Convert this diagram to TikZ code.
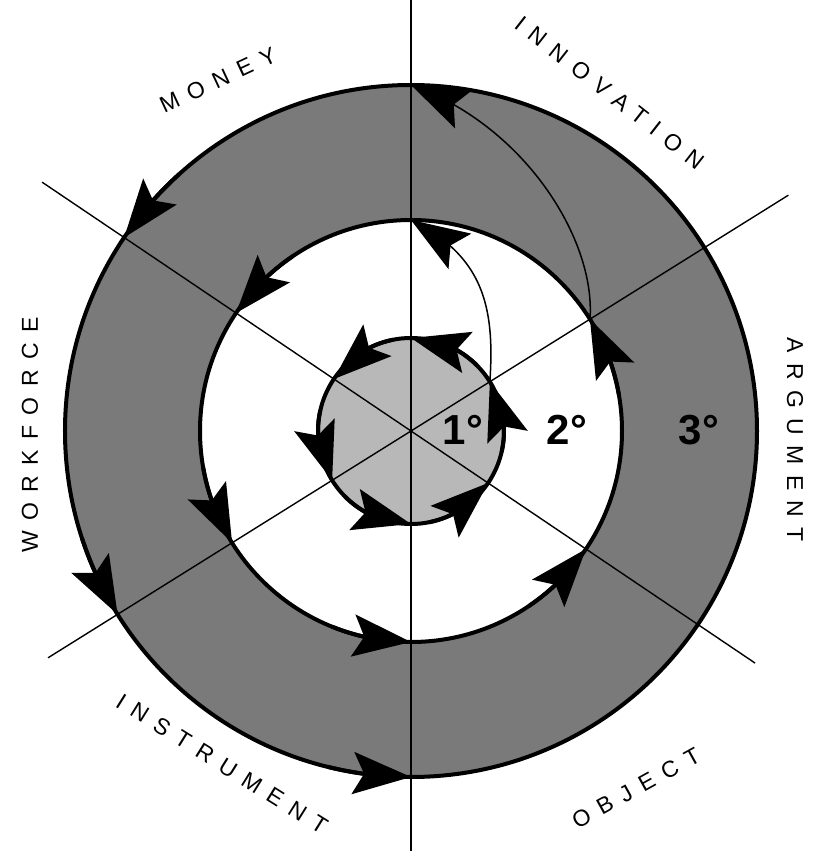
\documentclass[tikz,border=0pt]{standalone}
\usepackage{fontspec}
\setmainfont{Liberation Sans}
\newfontfamily\spaced[LetterSpace=45]{Liberation Sans}
\usetikzlibrary{arrows.meta,bending}

\tikzset{
  rim/.style={line width=4pt},
  ray/.style={line width=1.4pt},
  flow/.style={line width=4pt,-{Stealth[length=58pt,width=42pt,inset=11pt]}},
  link/.style={line width=1.5pt,-{Stealth[length=58pt,width=42pt,inset=11pt]}},
  sector/.style={font=\spaced\fontsize{23}{23}\selectfont},
  level/.style={font=\bfseries\fontsize{42}{42}\selectfont}
}

\begin{document}
\begin{tikzpicture}[x=1pt,y=1pt]
 \useasboundingbox (-411,-420) rectangle (406,431);
 % shaded rings
 \fill[black!52] (0,0) circle (346);
 \fill[white] (0,0) circle (211);
 \fill[black!28] (0,0) circle (93);
 % dividing lines
 \draw[ray] (0,431)--(0,-420);
 \draw[ray] (32:445)--(212:428);
 \draw[ray] (146:445)--(-34:415);
 \draw[rim] (0,0) circle (346) (0,0) circle (211) (0,0) circle (93);
 % circulation
 \foreach \a in {32,90,146,212,270,326}
   \draw[flow] (\a-45:93) arc[start angle=\a-45,end angle=\a,radius=93];
 \foreach \a in {32,146,212,270,326}
   \draw[flow] (\a-22:211) arc[start angle=\a-22,end angle=\a,radius=211];
 \foreach \a in {146,212,270}
   \draw[flow] (\a-14:346) arc[start angle=\a-14,end angle=\a,radius=346];
 % spirals to next level
 \coordinate (in1) at (32:93);
 \coordinate (mid0) at (90:211);
 \coordinate (mid1) at (32:211);
 \coordinate (out0) at (90:346);
 \draw[link] (in1) .. controls (84,125) and (72,175) .. (mid0);
 \draw[link] (mid1) .. controls (185,190) and (115,305) .. (out0);
 % labels
 \node[sector,rotate=25] (money) at (-193,351) {MONEY};
 \node[sector,rotate=-38] (innov) at (199,338) {INNOVATION};
 \node[sector,rotate=-90] (argu) at (384,-9) {ARGUMENT};
 \node[sector,rotate=29] (obj) at (225,-357) {OBJECT};
 \node[sector,rotate=-32] (instr) at (-189,-333) {INSTRUMENT};
 \node[sector,rotate=90] (work) at (-381,-4) {WORKFORCE};
 \node[level] (l1) at (52,1) {1°};
 \node[level] (l2) at (156,1) {2°};
 \node[level] (l3) at (288,1) {3°};
\end{tikzpicture}
\end{document}
